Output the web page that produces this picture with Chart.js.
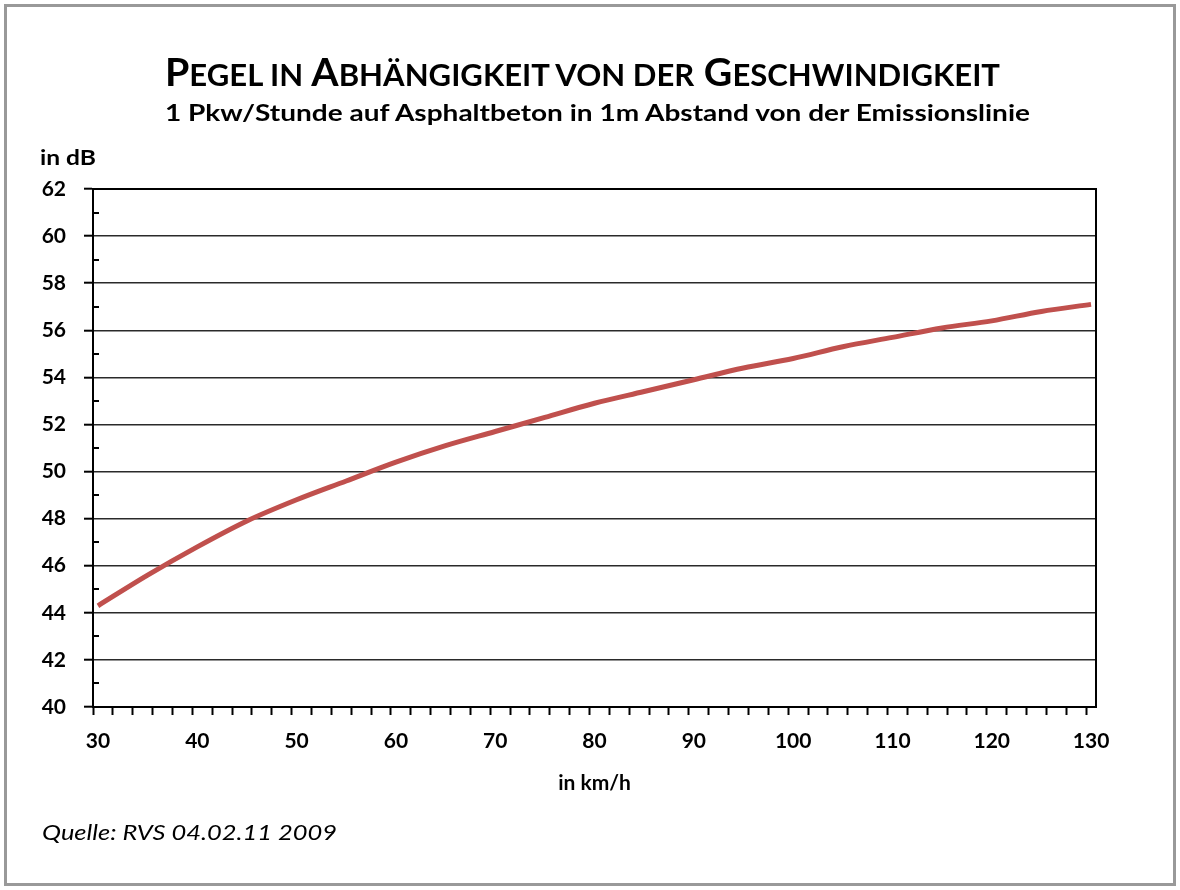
<!DOCTYPE html>
<html>
<head>
<meta charset="utf-8">
<script src="https://cdn.jsdelivr.net/npm/chart.js@4.4.1/dist/chart.umd.min.js"></script>
<style>
    html, body { margin: 0; padding: 0; background: #fff; }
    #page { position: relative; width: 1180px; height: 890px; overflow: hidden; font-family: Lato, "Open Sans", sans-serif; color: #000; }
    #frame { position: absolute; left: 4px; top: 4px; width: 1172px; height: 882px; box-sizing: border-box; border: 3px solid #999; }
    #chartBox { position: absolute; left: 0; top: 0; width: 1180px; height: 890px; }
    .txt { position: absolute; white-space: nowrap; transform-origin: 0 0; line-height: 1; }
    #title { left: 165px; top: 52px; font-weight: 700; font-size: 38px; }
    #title .sc { font-size: 30px; }
    #subtitle { left: 165px; top: 101px; font-weight: 700; font-size: 23px; }
    #unitY { left: 40px; top: 146px; font-weight: 700; font-size: 21px; }
    #source { left: 42px; top: 821px; font-style: italic; font-size: 22px; }
</style>
</head>
<body>
<div id="page">
    <div id="frame"></div>
    <div id="chartBox"><canvas id="chart" width="1180" height="890"></canvas></div>
    <div id="title" class="txt">P<span class="sc">EGEL IN</span> A<span class="sc">BHÄNGIGKEIT VON DER</span> G<span class="sc">ESCHWINDIGKEIT</span></div>
    <div id="subtitle" class="txt">1 Pkw/Stunde auf Asphaltbeton in 1m Abstand von der Emissionslinie</div>
    <div id="unitY" class="txt">in dB</div>
    <div id="source" class="txt">Quelle: RVS 04.02.11 2009</div>
</div>
<script>
// speed in km/h and level in dB
const speeds = [30, 35, 40, 45, 50, 55, 60, 65, 70, 75, 80, 85, 90, 95, 100, 105, 110, 115, 120, 125, 130];
const levels = [44.3, 45.6, 46.8, 47.9, 48.8, 49.6, 50.4, 51.1, 51.7, 52.3, 52.9, 53.4, 53.9, 54.4, 54.8, 55.3, 55.7, 56.1, 56.4, 56.8, 57.1];
const xLabels = [30, 40, 50, 60, 70, 80, 90, 100, 110, 120, 130];
const yLabels = [40, 42, 44, 46, 48, 50, 52, 54, 56, 58, 60, 62];

const tickFont = {family: 'Lato', weight: 'bold', size: 21};

// plot border + the short inner ticks on the odd dB values
const plotFrame = {
    id: 'plotFrame',
    afterDraw(chart) {
        const {ctx, chartArea: a, scales: {y}} = chart;
        ctx.save();
        ctx.strokeStyle = '#000';
        ctx.lineWidth = 2;
        ctx.strokeRect(a.left, a.top, a.right - a.left, a.bottom - a.top);
        ctx.beginPath();
        for (let v = 41; v < 62; v += 2) {
            const py = Math.round(y.getPixelForValue(v));
            ctx.moveTo(a.left, py);
            ctx.lineTo(a.left + 6, py);
        }
        ctx.stroke();
        ctx.restore();
    }
};

new Chart(document.getElementById('chart'), {
    type: 'line',
    data: {
        datasets: [{
            data: speeds.map((v, i) => ({x: v, y: levels[i]})),
            borderColor: '#C0504D',
            borderWidth: 5,
            pointRadius: 0,
            cubicInterpolationMode: 'monotone',
            fill: false
        }]
    },
    options: {
        responsive: false,
        animation: false,
        layout: {padding: {top: 189, right: 84, left: 0, bottom: 0}},
        plugins: {legend: {display: false}, tooltip: {enabled: false}},
        scales: {
            x: {
                type: 'linear',
                min: 29.5,
                max: 130.5,
                afterBuildTicks: scale => {
                    scale.ticks = [];
                    for (let v = 29.5; v < 130; v += 2) scale.ticks.push({value: v});
                },
                afterFit: scale => { scale.height = 183; },
                grid: {drawOnChartArea: false, tickLength: 8, tickColor: '#000', tickWidth: 2},
                border: {color: '#000', width: 2},
                ticks: {
                    autoSkip: false,
                    maxRotation: 0,
                    labelOffset: 5,
                    padding: 14,
                    color: '#000',
                    font: tickFont,
                    callback: v => xLabels.includes(v + 0.5) ? String(v + 0.5) : ''
                },
                title: {display: true, text: 'in km/h', color: '#000', font: tickFont, padding: {top: 0, bottom: 94}}
            },
            y: {
                min: 40,
                max: 62,
                afterFit: scale => { scale.width = 93; },
                grid: {
                    color: c => (c.tick && c.tick.value % 2 === 0) ? '#2a2a2a' : 'rgba(0,0,0,0)',
                    lineWidth: 1.4,
                    tickLength: 9,
                    tickColor: c => (c.tick && c.tick.value % 2 === 0) ? '#000' : 'rgba(0,0,0,0)',
                    tickWidth: 2
                },
                border: {color: '#000', width: 2},
                ticks: {
                    stepSize: 1,
                    autoSkip: false,
                    padding: 18,
                    color: '#000',
                    font: tickFont,
                    callback: v => yLabels.includes(v) ? String(v) : ''
                }
            }
        }
    },
    plugins: [plotFrame]
});

// squeeze / stretch the html texts to the widths in the reference
const fitWidths = {title: 835, subtitle: 865, unitY: 56, source: 295};
function fitTexts() {
    for (const id in fitWidths) {
        const el = document.getElementById(id);
        el.style.transform = '';
        const w = el.getBoundingClientRect().width;
        el.style.transform = 'scaleX(' + (fitWidths[id] / w) + ')';
    }
}
fitTexts();
document.fonts.ready.then(fitTexts);
</script>
</body>
</html>
